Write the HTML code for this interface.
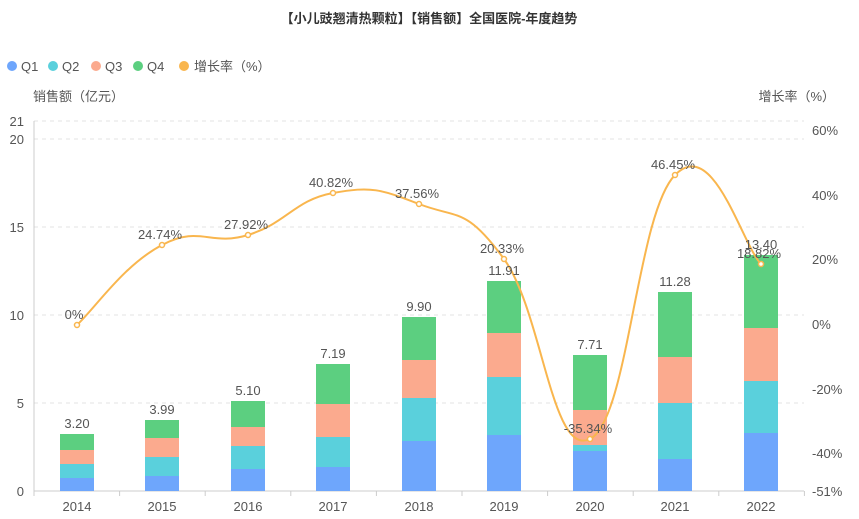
<!DOCTYPE html>
<html><head><meta charset="utf-8"><style>
body{margin:0;background:#fff;}
svg{display:block;font-family:"Liberation Sans","Noto Sans CJK SC",sans-serif;}
</style></head><body>
<svg id="s" width="859" height="519" viewBox="0 0 859 519">
<text x="429" y="23" text-anchor="middle" font-size="13" font-weight="bold" fill="#333">【小儿豉翘清热颗粒】【销售额】全国医院-年度趋势</text>
<g font-size="13" fill="#555">
<circle cx="12" cy="66" r="5" fill="#6ea6fc"/><text x="21" y="71">Q1</text>
<circle cx="53" cy="66" r="5" fill="#5ad0dc"/><text x="62" y="71">Q2</text>
<circle cx="96" cy="66" r="5" fill="#fbaa8e"/><text x="105" y="71">Q3</text>
<circle cx="138" cy="66" r="5" fill="#5ccf80"/><text x="147" y="71">Q4</text>
<circle cx="184" cy="66" r="5" fill="#f9b64e"/><text x="194" y="71">增长率（%）</text>
<text x="33" y="101">销售额（亿元）</text>
<text x="835" y="101" text-anchor="end">增长率（%）</text>
</g>
<g stroke="#e3e3e3" stroke-dasharray="4,4">
<line x1="34" x2="804" y1="121" y2="121"/><line x1="34" x2="804" y1="139" y2="139"/>
<line x1="34" x2="804" y1="227" y2="227"/><line x1="34" x2="804" y1="315" y2="315"/>
<line x1="34" x2="804" y1="403" y2="403"/>
</g>
<line x1="34" x2="34" y1="121" y2="491" stroke="#ccc"/>
<line x1="34" x2="804" y1="491" y2="491" stroke="#ccc"/>
<g font-size="13" fill="#555" text-anchor="end">
<text x="24" y="126">21</text><text x="24" y="144">20</text><text x="24" y="232">15</text>
<text x="24" y="320">10</text><text x="24" y="408">5</text><text x="24" y="496">0</text>
</g>
<g font-size="13" fill="#555">
<text x="812" y="135">60%</text><text x="812" y="200">40%</text><text x="812" y="264">20%</text>
<text x="812" y="329">0%</text><text x="812" y="394">-20%</text><text x="812" y="458">-40%</text>
<text x="812" y="496">-51%</text>
</g>
<g id="bars"></g>
<path id="ln" fill="none" stroke="#f9b64e" stroke-width="2"/>
<g id="pts"></g>
<g font-size="13" fill="#555" text-anchor="middle" id="xl"></g>
<g font-size="13" fill="#555" text-anchor="middle">
<text x="77" y="428">3.20</text><text x="162" y="414">3.99</text><text x="248" y="395">5.10</text>
<text x="333" y="358">7.19</text><text x="419" y="311">9.90</text><text x="504" y="275">11.91</text>
<text x="590" y="349">7.71</text><text x="675" y="286">11.28</text><text x="761" y="249">13.40</text>
<text x="74" y="319">0%</text><text x="160" y="239">24.74%</text><text x="246" y="229">27.92%</text>
<text x="331" y="187">40.82%</text><text x="417" y="198">37.56%</text><text x="502" y="253">20.33%</text>
<text x="588" y="433">-35.34%</text><text x="673" y="169">46.45%</text><text x="759" y="258">18.82%</text>
</g>
</svg>
<script>
var xs=[77,162,248,333,419,504,590,675,761];
var yrs=[2014,2015,2016,2017,2018,2019,2020,2021,2022];
var st=[[478,464,450,434],[476,457,438,420],[469,446,427,401],[467,437,404,364],[441,398,360,317],[435,377,333,281],[451,445,410,355],[459,403,357,292],[433,381,328,255]];
var cols=["#6ea6fc","#5ad0dc","#fbaa8e","#5ccf80"];
var b=document.getElementById("bars"),h="";
for(var i=0;i<9;i++){var prev=491;for(var k=0;k<4;k++){h+='<rect x="'+(xs[i]-17)+'" y="'+st[i][k]+'" width="34" height="'+(prev-st[i][k])+'" fill="'+cols[k]+'"/>';prev=st[i][k];}}
b.innerHTML=h;
var xl="";for(var i=0;i<9;i++){xl+='<text x="'+xs[i]+'" y="511">'+yrs[i]+'</text>';}
for(var i=0;i<=9;i++){var x=34+i*85.6;xl+='<line x1="'+x+'" x2="'+x+'" y1="491" y2="496" stroke="#ccc"/>';}
document.getElementById("xl").innerHTML=xl;
var ys=[325,245,235,193,204,259,439,175,264];
var d="M"+xs[0]+","+ys[0],t=0.45;
for(var i=0;i<8;i++){var x0=xs[Math.max(i-1,0)],y0=ys[Math.max(i-1,0)],x3=xs[Math.min(i+2,8)],y3=ys[Math.min(i+2,8)];
var c1x=xs[i]+(xs[i+1]-x0)*t/2,c1y=ys[i]+(ys[i+1]-y0)*t/2;
var c2x=xs[i+1]-(x3-xs[i])*t/2,c2y=ys[i+1]-(y3-ys[i])*t/2;
d+=" C"+c1x+","+c1y+" "+c2x+","+c2y+" "+xs[i+1]+","+ys[i+1];}
document.getElementById("ln").setAttribute("d",d);
var p="";for(var i=0;i<9;i++)p+='<circle cx="'+xs[i]+'" cy="'+ys[i]+'" r="2.5" fill="#fff" stroke="#f9b64e" stroke-width="1.5"/>';
document.getElementById("pts").innerHTML=p;
</script>
</body></html>
